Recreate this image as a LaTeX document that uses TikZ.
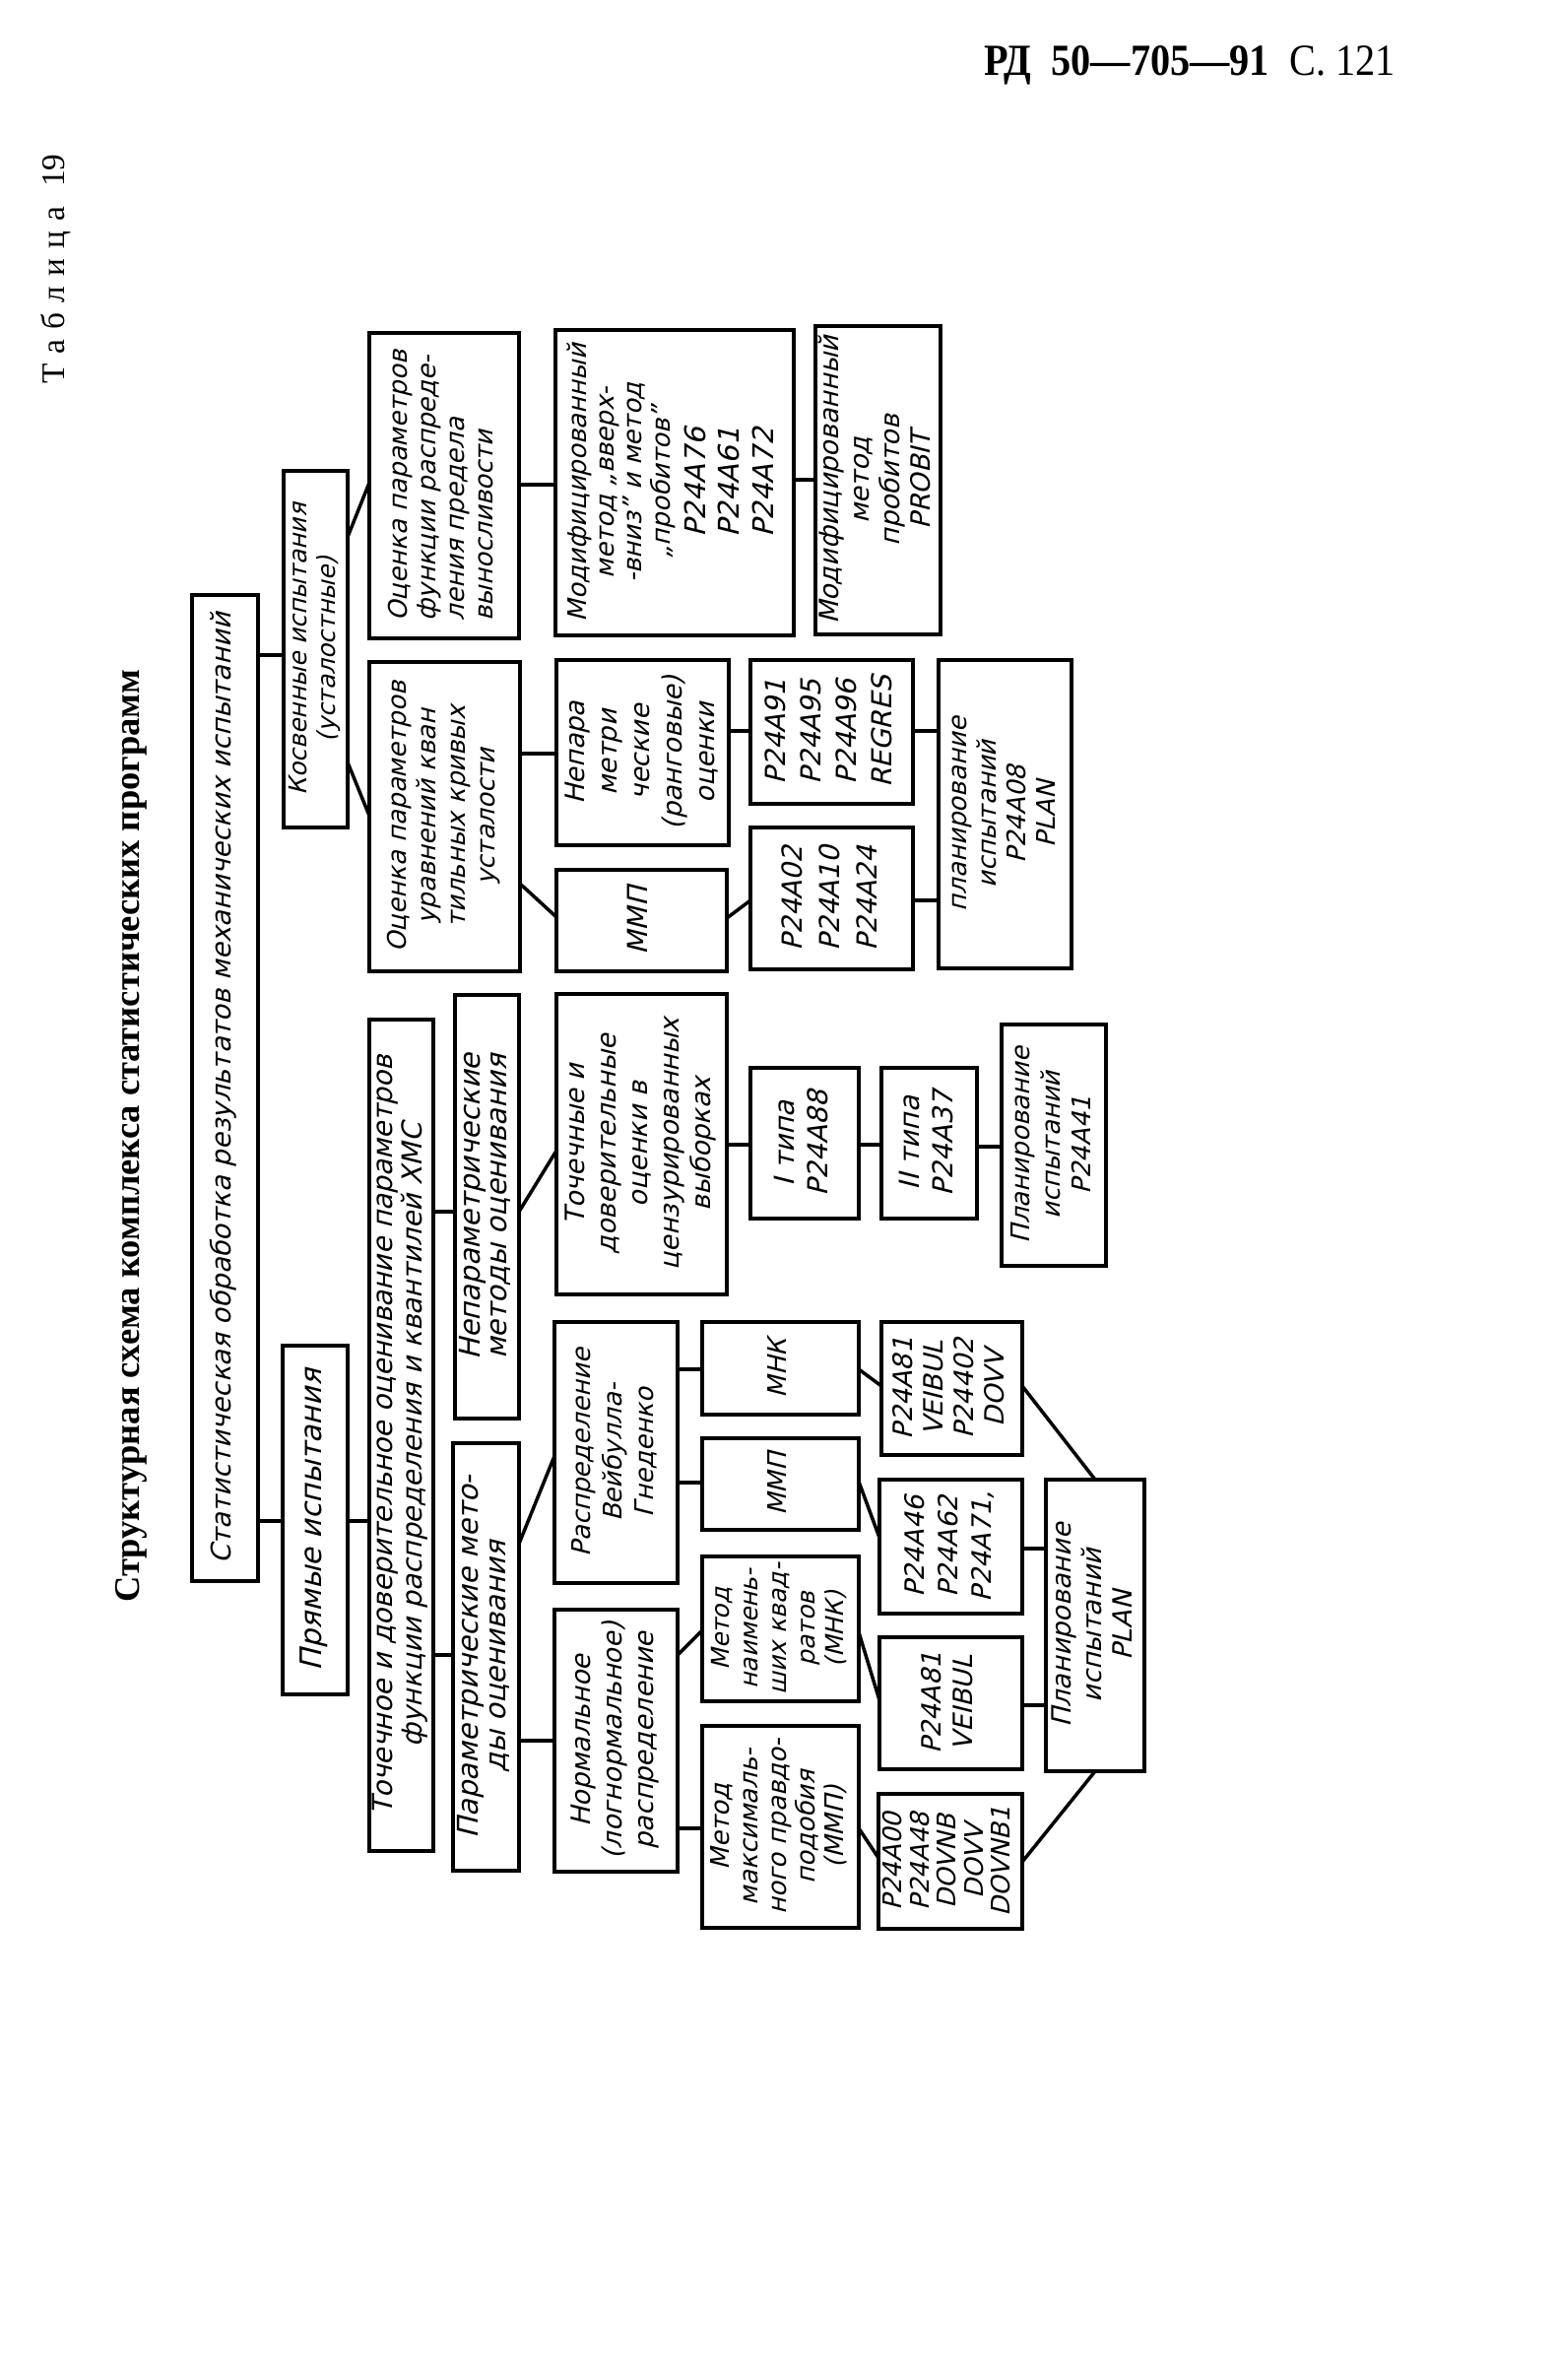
\documentclass[tikz,border=0pt]{standalone}
\usepackage{fontspec}
\setmainfont{Liberation Serif}
\newfontfamily\gost[FakeSlant=0.25]{DejaVu Sans}
\newcommand\gf[2]{\gost\fontsize{#1}{#2}\selectfont}
\newcommand\gcode{\fontsize{29}{31}\selectfont}
\newcommand\Bx[7][]{\node[box,#1,minimum width={(#5-#3)*1pt},minimum height={(#6-#4)*1pt}] (#2) at ({(#3+#5)/2},{(#4+#6)/2}) {\rotatebox{90}{\begin{tabular}{@{}c@{}}#7\end{tabular}}};}
\newcommand\BxL[7][]{\node[box,#1,minimum width={(#5-#3)*1pt},minimum height={(#6-#4)*1pt}] (#2) at ({(#3+#5)/2},{(#4+#6)/2}) {\rotatebox{90}{\begin{tabular}{@{}l@{}}#7\end{tabular}}};}
\begin{document}
\begin{tikzpicture}[x=1pt,y=-1pt,
  box/.style={draw,line width=4.5pt,inner sep=0pt,outer sep=0pt,font=\gf{26}{30}},
  conn/.style={line width=3.5pt}]
\useasboundingbox[fill=white] (0,0) rectangle (1582,2416);

% headings
\node (hdr) at (1208,66) {\resizebox{417pt}{30pt}{\bfseries РД\enspace 50—705—91\enspace\mdseries С. 121}};
\node[rotate=90] (tab) at (57,273) {\resizebox{233pt}{!}{Т\kern0.3em а\kern0.3em б\kern0.3em л\kern0.3em и\kern0.3em ц\kern0.3em а\kern0.6em 19}};
\node[rotate=90] (title) at (133,1153) {\resizebox{947pt}{!}{\bfseries Структурная схема комплекса статистических программ}};

% boxes
\Bx[font=\gf{27.5}{28}]{root}{195}{604}{262}{1605}{Статистическая обработка результатов механических испытаний}
\Bx[font=\gf{25}{29}]{kos}{288}{478}{353}{840}{Косвенные испытания\\(усталостные)}
\Bx[font=\gf{30}{32}]{pry}{287}{1366}{353}{1720}{Прямые испытания}

\BxL[font=\gf{26}{29}]{ocp}{375}{338}{527}{648}{Оценка параметров\\функции распреде-\\ления предела\\выносливости}
\Bx[font=\gf{26}{28}]{mod}{564}{335}{806}{645}{Модифицированный\\метод „вверх-\\-вниз” и метод\\„пробитов”\\[6pt]{\gcode P24A76}\\[5pt]{\gcode P24A61}\\[5pt]{\gcode P24A72}}
\Bx[font=\gf{27}{31}]{prob}{828}{331}{955}{644}{Модифицированный\\метод\\пробитов\\PROBIT}

\Bx[font=\gf{26}{30}]{ock}{375}{672}{528}{986}{Оценка параметров\\уравнений кван\\тильных кривых\\усталости}
\Bx[font=\gf{27}{33}]{nrang}{565}{670}{740}{858}{Непара\\метри\\ческие\\(ранговые)\\оценки}
\Bx[font=\gf{28}{30}]{mmpa}{565}{883}{738}{986}{ММП}
\Bx[font=\gf{28}{36}]{p91}{762}{670}{927}{816}{P24A91\\P24A95\\P24A96\\REGRES}
\Bx[font=\gf{28}{38}]{p02}{762}{840}{927}{984}{P24A02\\P24A10\\P24A24}
\Bx[font=\gf{26}{30}]{pl08}{953}{670}{1088}{983}{планирование\\испытаний\\P24A08\\PLAN}

\Bx[font=\gf{28}{28}]{xms}{375}{1035}{440}{1879}{Точечное и доверительное оценивание параметров\\функции распределения и квантилей ХМС}
\Bx[font=\gf{29}{27}]{nepm}{462}{1010}{527}{1440}{Непараметрические\\методы оценивания}
\Bx[font=\gf{29}{28}]{parm}{460}{1465}{527}{1899}{Параметрические мето-\\ды оценивания}

\Bx[font=\gf{27}{32}]{toc}{565}{1009}{738}{1314}{Точечные и\\доверительные\\оценки в\\цензурированных\\выборках}
\Bx[font=\gf{28}{34}]{t1}{762}{1084}{872}{1237}{I типа\\P24A88}
\Bx[font=\gf{28}{34}]{t2}{895}{1084}{992}{1237}{II типа\\P24A37}
\Bx[font=\gf{26}{31}]{pl41}{1017}{1040}{1123}{1285}{Планирование\\испытаний\\P24A41}

\Bx[font=\gf{26}{32}]{weib}{563}{1342}{688}{1607}{Распределение\\Вейбулла-\\Гнеденко}
\Bx[font=\gf{27}{32}]{norm}{563}{1634}{688}{1900}{Нормальное\\(логнормальное)\\распределение}
\Bx[font=\gf{26}{30}]{mnka}{713}{1342}{872}{1436}{МНК}
\Bx[font=\gf{26}{30}]{mmpb}{713}{1460}{872}{1553}{ММП}
\Bx[font=\gf{25}{29}]{mnk}{713}{1580}{872}{1727}{Метод\\наимень-\\ших квад-\\ратов\\(МНК)}
\Bx[font=\gf{26}{29}]{mmp}{713}{1752}{872}{1957}{Метод\\максималь-\\ного правдо-\\подобия\\(ММП)}

\Bx[font=\gf{27}{31}]{p81d}{895}{1342}{1038}{1477}{P24A81\\VEIBUL\\P24402\\DOVV}
\Bx[font=\gf{27}{34}]{p46}{893}{1502}{1038}{1638}{P24A46\\P24A62\\P24A71,}
\Bx[font=\gf{27}{32}]{p81v}{893}{1662}{1038}{1796}{P24A81\\VEIBUL}
\Bx[font=\gf{26}{27}]{p00}{892}{1821}{1038}{1958}{P24A00\\P24A48\\DOVNB\\DOVV\\DOVNB1}
\Bx[font=\gf{27}{31}]{plan}{1062}{1502}{1162}{1798}{Планирование\\испытаний\\PLAN}

% connectors
\draw[conn] (root.east|-0,665) -- (kos.west|-0,665);
\draw[conn] (root.east|-0,1544) -- (pry.west|-0,1544);
\draw[conn] (kos.east|-0,545) -- (ocp.west|-0,490);
\draw[conn] (kos.east|-0,774) -- (ock.west|-0,828);
\draw[conn] (ocp.east|-0,492) -- (mod.west|-0,492);
\draw[conn] (mod.east|-0,487) -- (prob.west|-0,487);
\draw[conn] (ock.east|-0,765) -- (nrang.west|-0,765);
\draw[conn] (ock.east|-0,897) -- (mmpa.west|-0,931);
\draw[conn] (nrang.east|-0,742) -- (p91.west|-0,742);
\draw[conn] (mmpa.east|-0,932) -- (p02.west|-0,914);
\draw[conn] (p91.east|-0,742) -- (pl08.west|-0,742);
\draw[conn] (p02.east|-0,914) -- (pl08.west|-0,914);
\draw[conn] (pry.east|-0,1544) -- (xms.west|-0,1544);
\draw[conn] (xms.east|-0,1230) -- (nepm.west|-0,1230);
\draw[conn] (xms.east|-0,1680) -- (parm.west|-0,1680);
\draw[conn] (nepm.east|-0,1230) -- (toc.west|-0,1168);
\draw[conn] (toc.east|-0,1162) -- (t1.west|-0,1162);
\draw[conn] (t1.east|-0,1162) -- (t2.west|-0,1162);
\draw[conn] (t2.east|-0,1164) -- (pl41.west|-0,1164);
\draw[conn] (parm.east|-0,1567) -- (weib.west|-0,1478);
\draw[conn] (parm.east|-0,1767) -- (norm.west|-0,1767);
\draw[conn] (weib.east|-0,1390) -- (mnka.west|-0,1390);
\draw[conn] (weib.east|-0,1505) -- (mmpb.west|-0,1505);
\draw[conn] (mnka.east|-0,1390) -- (p81d.west|-0,1407);
\draw[conn] (mmpb.east|-0,1504) -- (p46.west|-0,1561);
\draw[conn] (norm.east|-0,1680) -- (mnk.west|-0,1655);
\draw[conn] (norm.east|-0,1856) -- (mmp.west|-0,1856);
\draw[conn] (mnk.east|-0,1657) -- (p81v.west|-0,1726);
\draw[conn] (mmp.east|-0,1856) -- (p00.west|-0,1886);
\draw[conn] (p81d.east|-0,1407) -- (plan.north-|1112,0);
\draw[conn] (p46.east|-0,1572) -- (plan.west|-0,1572);
\draw[conn] (p81v.east|-0,1731) -- (plan.west|-0,1731);
\draw[conn] (p00.east|-0,1890) -- (plan.south-|1112,0);
\end{tikzpicture}
\end{document}
